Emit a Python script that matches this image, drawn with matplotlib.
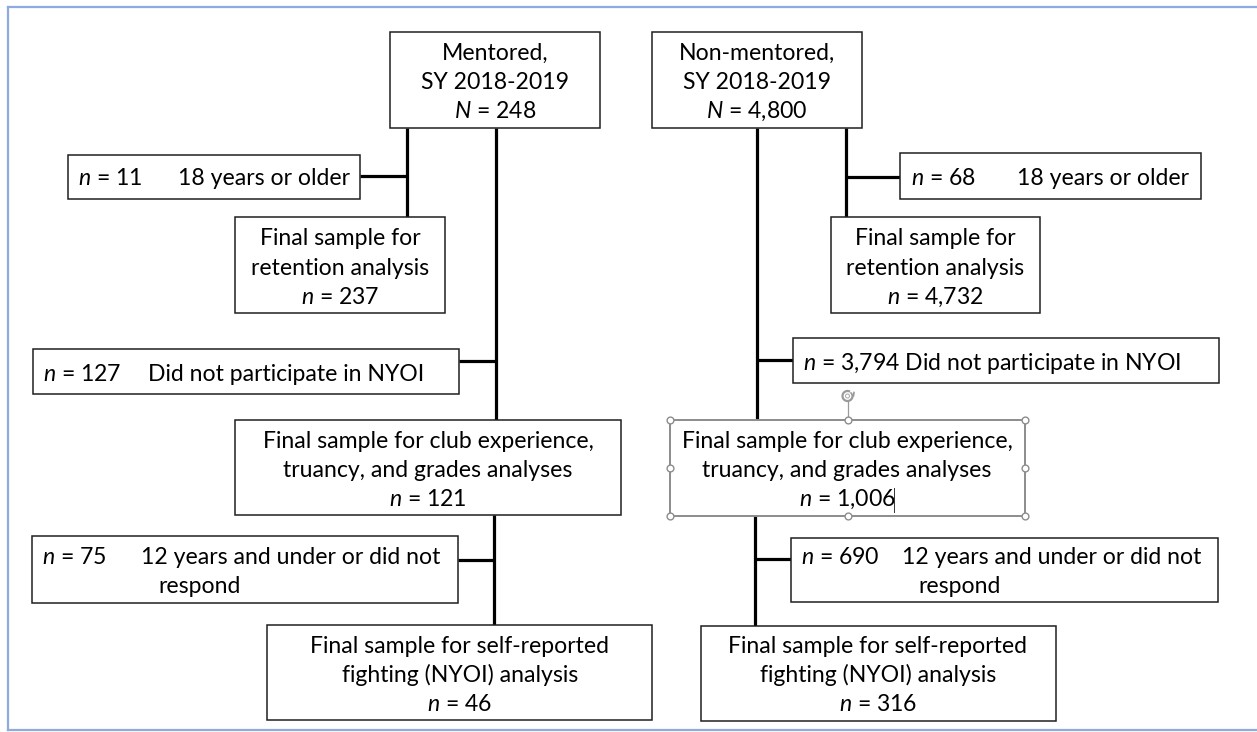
import matplotlib
matplotlib.use('Agg')
import matplotlib.pyplot as plt
from matplotlib.patches import Rectangle, Arc

plt.rcParams['font.family'] = ['Lato', 'DejaVu Sans']
plt.rcParams['mathtext.fontset'] = 'custom'
plt.rcParams['mathtext.it'] = 'Lato:italic'
plt.rcParams['mathtext.rm'] = 'Lato'
plt.rcParams['mathtext.default'] = 'it'

# ---------------- data ----------------
groups = ['Mentored,', 'Non-mentored,']
school_year = 'SY 2018-2019'
total_N = [248, 4800]
excluded_age18 = [11, 68]
retention_n = [237, 4732]
excluded_nyoi = [127, 3794]
club_n = [121, 1006]
excluded_age12 = [75, 690]
fighting_n = [46, 316]

reason_age18 = '18 years or older'
reason_nyoi = 'Did not participate in NYOI'
reason_age12 = ['12 years and under or did not', 'respond']
label_retention = ['Final sample for', 'retention analysis']
label_club = ['Final sample for club experience,', 'truancy, and grades analyses']
label_fight = ['Final sample for self-reported', 'fighting (NYOI) analysis']

# ---------------- figure ----------------
W, H = 1257, 732
fig = plt.figure(figsize=(W / 100, H / 100), dpi=100)
ax = fig.add_axes([0, 0, 1, 1])
ax.set_xlim(0, W)
ax.set_ylim(H, 0)
ax.axis('off')

renderer = fig.canvas.get_renderer()
probe = ax.text(0, 0, label_club[0], fontsize=10)
pw = probe.get_window_extent(renderer).width
probe.remove()
FS = 10 * 330 / pw
CAP = 8  # half cap height in px

BOX_EC = '#1f1f1f'
BOX_LW = 1.1
CON_LW = 2.3


def box(x0, y0, x1, y1, ec=BOX_EC, lw=BOX_LW, ls='-'):
    ax.add_patch(Rectangle((x0, y0), x1 - x0, y1 - y0, fc='white', ec=ec,
                           lw=lw, ls=ls, zorder=3))


def line(x0, y0, x1, y1):
    ax.plot([x0, x1], [y0, y1], color='black', lw=CON_LW,
            solid_capstyle='butt', zorder=2)


def ctext(x, ys, lines):
    for y, s in zip(ys, lines):
        ax.text(x, y + CAP, s, fontsize=FS, ha='center', va='baseline',
                color='black', zorder=5)


def ltext(x, y, s):
    ax.text(x, y + CAP, s, fontsize=FS, ha='left', va='baseline',
            color='black', zorder=5)


def nstr(v, big=False):
    return ('$N$' if big else '$n$') + f' = {v:,}'


layout = [
    dict(top=(390, 32, 600, 128), tc=495,
         a18=(68, 155, 360, 199), a18_n=78, a18_r=178, a18_y=177,
         ret=(235, 217, 445, 313), retc=340,
         nyoi=(33, 349, 459, 394), nyoi_n=43, nyoi_r=148, nyoi_y=373,
         club=(235, 420, 621, 515), clubc=428,
         a12=(32, 536, 458, 603), a12_n=42, a12_r=141, a12_r2=158,
         fight=(267, 625, 652, 720), fightc=460,
         lines=[(407, 128, 407, 217), (360, 176, 407, 176),
                (496, 128, 496, 420), (459, 361, 496, 361),
                (494, 515, 494, 625), (458, 560, 494, 560)],
         single=False),
    dict(top=(652, 32, 862, 128), tc=757,
         a18=(900, 153, 1201, 199), a18_n=911, a18_r=1017, a18_y=177,
         ret=(831, 217, 1040, 313), retc=935,
         nyoi=(793, 338, 1219, 383), nyoi_n=803, nyoi_r=None, nyoi_y=362,
         club=(670, 420, 1025, 516), clubc=847,
         a12=(791, 538, 1218, 602), a12_n=801, a12_r=902, a12_r2=918,
         fight=(701, 626, 1056, 721), fightc=878,
         lines=[(846, 128, 846, 217), (846, 177, 900, 177),
                (757, 128, 757, 420), (757, 360, 793, 360),
                (755, 516, 755, 626), (755, 559, 791, 559)],
         single=True),
]

for i, L in enumerate(layout):
    for seg in L['lines']:
        line(*seg)
    box(*L['top'])
    ctext(L['tc'], [52, 81, 110], [groups[i], school_year, nstr(total_N[i], True)])

    box(*L['a18'])
    ltext(L['a18_n'], L['a18_y'], nstr(excluded_age18[i]))
    ltext(L['a18_r'], L['a18_y'], reason_age18)

    box(*L['ret'])
    ctext(L['retc'], [237, 267, 296], label_retention + [nstr(retention_n[i])])

    box(*L['nyoi'])
    if L['single']:
        ltext(L['nyoi_n'], L['nyoi_y'], nstr(excluded_nyoi[i]) + ' ' + reason_nyoi)
    else:
        ltext(L['nyoi_n'], L['nyoi_y'], nstr(excluded_nyoi[i]))
        ltext(L['nyoi_r'], L['nyoi_y'], reason_nyoi)

    if i == 1:
        box(*L['club'], ec='#8c8c8c', lw=1.4)
    else:
        box(*L['club'])
    ctext(L['clubc'], [440, 469, 498], label_club + [nstr(club_n[i])])

    box(*L['a12'])
    ltext(L['a12_n'], 556, nstr(excluded_age12[i]))
    ltext(L['a12_r'], 556, reason_age12[0])
    ltext(L['a12_r2'], 585, reason_age12[1])

    box(*L['fight'])
    ctext(L['fightc'], [645, 674, 703], label_fight + [nstr(fighting_n[i])])

# selection handles on the right club box
x0, y0, x1, y1 = layout[1]['club']
xm, ym = (x0 + x1) / 2, (y0 + y1) / 2
hx = [x0, xm, x1, x0, x1, x0, xm, x1]
hy = [y0, y0, y0, ym, ym, y1, y1, y1]
ax.plot([xm, xm], [y0, 402], color='#9a9a9a', lw=0.9, zorder=6)
ax.scatter(hx, hy, s=24, facecolor='white', edgecolor='#8c8c8c',
           linewidths=1.0, zorder=7)
# rotation handle (circular arrow)
ax.add_patch(Arc((xm, 396), 10, 10, theta1=-20, theta2=300, color='#9a9a9a',
                 lw=1.6, zorder=7))
ax.add_patch(Arc((xm, 396), 4, 4, theta1=0, theta2=360, color='#b0b0b0',
                 lw=0.8, zorder=7))
ax.plot([xm + 3.5, xm + 6, xm + 6.5], [393, 396, 392.5], color='#9a9a9a',
        lw=1.2, zorder=7)
# text cursor
ax.plot([894, 894], [488, 512], color='#333333', lw=0.7, zorder=8)

# outer frame
fc = '#8FAADC'
ax.plot([7.5, W], [6.5, 6.5], color=fc, lw=1.6, zorder=1)
ax.plot([7.5, W], [729.5, 729.5], color=fc, lw=1.6, zorder=1)
ax.plot([7.5, 7.5], [6.5, 729.5], color=fc, lw=1.6, zorder=1)

fig.savefig('out.png', dpi=100, facecolor='white')
